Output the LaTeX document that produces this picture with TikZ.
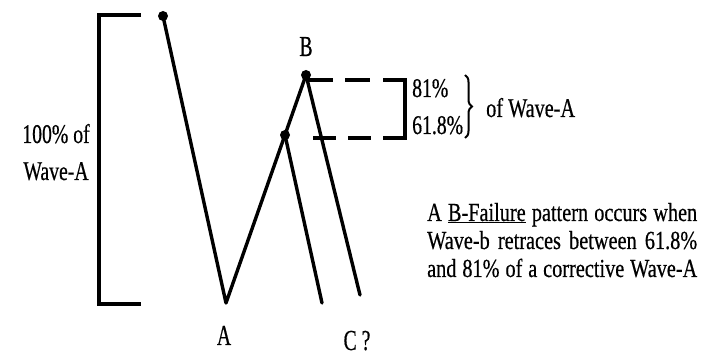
\documentclass[tikz,border=0pt]{standalone}
\usepackage{fontspec}
\setmainfont{Liberation Serif}[FakeBold=0.6]
\usepackage{graphicx}
\usetikzlibrary{decorations.pathreplacing}
\newcommand{\hv}[1]{{\addfontfeature{FakeBold=0.6}#1}}
\tikzset{
  wave/.style={line width=3.4pt, line cap=round, line join=round},
  brk/.style={line width=3.4pt},
  dsh/.style={line width=3.2pt},
  dotmark/.style={circle, fill=black, inner sep=0pt, minimum size=10pt},
  lbl/.style={inner sep=0pt, anchor=base, font=\fontsize{29}{32}\selectfont},
  txt/.style={inner sep=0pt, anchor=base, font=\fontsize{27}{30}\selectfont},
  para/.style={inner sep=0pt, anchor=base west, font=\fontsize{26}{30}\selectfont},
}
\begin{document}
\begin{tikzpicture}[x=1pt, y=-1pt]
\useasboundingbox (0,0) rectangle (702,355);
% points
\coordinate (T) at (163,16);
\coordinate (A) at (226,303);
\coordinate (D) at (285,135);
\coordinate (B) at (306,75);
\coordinate (C1) at (322,303);
\coordinate (C2) at (360,295);
% bracket
\coordinate (bt) at (141,15);
\coordinate (bb) at (141,304);
\draw[brk] (bt) -- (99,15) -- (99,304) -- (bb);
% waves
\draw[wave] (T) -- (A) -- (B);
\draw[wave] (D) -- (C1);
\draw[wave] (B) -- (C2);
\node[dotmark] (dT) at (T) {};
\node[dotmark] (dD) at (D) {};
\node[dotmark] (dB) at (B) {};
% dashed levels
\coordinate (u0) at (306,80);
\coordinate (u1) at (370,80);
\coordinate (l0) at (313,138);
\coordinate (l1) at (372,138);
\draw[dsh, dash pattern=on 27pt off 12pt] (u0) -- (u1);
\draw[dsh, dash pattern=on 23pt off 12pt] (l0) -- (l1);
\coordinate (r0) at (383,80);
\coordinate (r1) at (383,138);
\draw[dsh] (r0) -- (405,80) -- (405,138) -- (r1);
% brace
\coordinate (br0) at (465,75);
\coordinate (br1) at (465,138);
\draw[line width=2pt, decorate, decoration={brace, amplitude=7pt}] (br0) -- (br1);
% labels
\node[lbl] (lB) at (306,56) {\scalebox{0.68}[1]{\hv{B}}};
\node[lbl] (lA) at (224,345) {\scalebox{0.68}[1]{\hv{A}}};
\node[lbl] (lC) at (357,350) {\scalebox{0.68}[1]{\hv{C ?}}};
\node[txt] (h1) at (56,143) {\scalebox{0.73}[1]{\hv{100\% of}}};
\node[txt] (h2) at (56,180) {\scalebox{0.73}[1]{\hv{Wave-A}}};
\node[txt, anchor=base west] (p81) at (412,97) {\scalebox{0.73}[1]{\hv{81\%}}};
\node[txt, anchor=base west] (p62) at (412,134) {\scalebox{0.73}[1]{\hv{61.8\%}}};
\node[txt, anchor=base west] (ofw) at (486,117) {\scalebox{0.75}[1]{\hv{of Wave-A}}};
% paragraph
\node[para] (t1) at (427,221) {\scalebox{0.78}[1]{\makebox[346.2pt][s]{\hv{A \underline{B-Failure} pattern occurs when}}}};
\node[para] (t2) at (427,249) {\scalebox{0.78}[1]{\makebox[346.2pt][s]{\hv{Wave-b retraces between 61.8\%}}}};
\node[para] (t3) at (427,277) {\scalebox{0.78}[1]{\makebox[346.2pt][s]{\hv{and 81\% of a corrective Wave-A}}}};
\end{tikzpicture}
\end{document}
